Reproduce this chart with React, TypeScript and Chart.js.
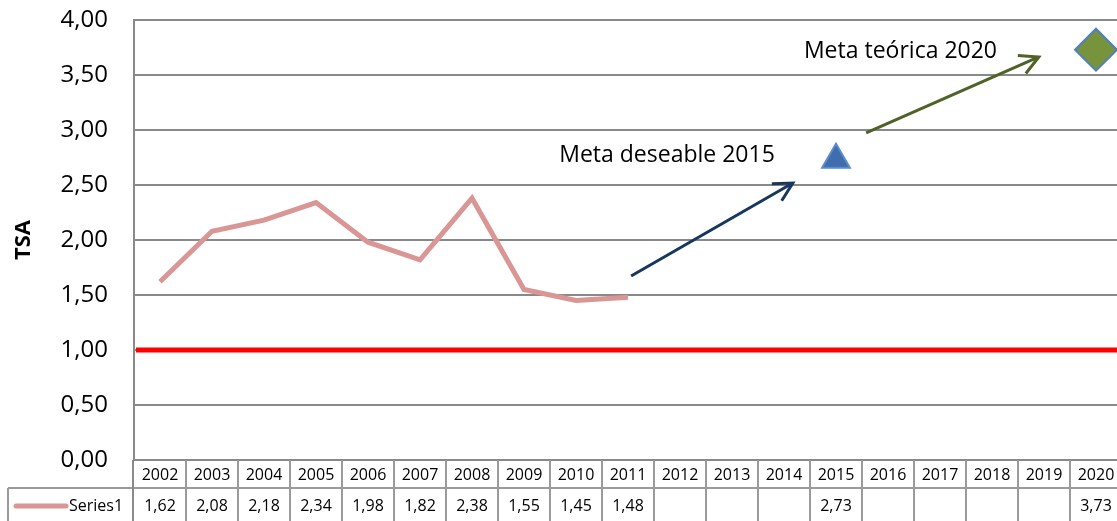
import React, { useEffect, useRef } from 'react';
import { Chart, registerables } from 'chart.js';

Chart.register(...registerables);

// ---- data ----
const years = ['2002', '2003', '2004', '2005', '2006', '2007', '2008', '2009', '2010', '2011', '2012', '2013', '2014', '2015', '2016', '2017', '2018', '2019', '2020'];
const series1: (number | null)[] = [1.62, 2.08, 2.18, 2.34, 1.98, 1.82, 2.38, 1.55, 1.45, 1.48, null, null, null, 2.73, null, null, null, null, 3.73];
const seriesName = 'Series1';
const yMin = 0;
const yMax = 4;
const yStep = 0.5;
const thresholdValue = 1.0;
const axisTitle = 'TSA';
// annotation anchors in data units: [category index, value]
const arrowStarts: [number, number][] = [[9.06, 1.673], [13.58, 2.973]];
const arrowEnds: [number, number][] = [[12.17, 2.518], [16.9, 3.664]];
const noteTexts = ['Meta deseable 2015', 'Meta teórica 2020'];
const noteAnchors: [number, number][] = [[9.75, 2.773], [14.24, 3.718]];

const FONT = "'Open Sans', sans-serif";
const fmt = (v: number) => v.toFixed(2).replace('.', ',');

const styles = {
  line: '#D99694',
  threshold: '#FF0000',
  grid: '#898989',
  table: '#9A9A9A',
  arrowColors: ['#17375E', '#4F6228'],
};

const pointStyles = series1.map((_, i) => (i === 13 ? 'triangle' : i === 18 ? 'rectRot' : 'circle'));
const pointRadii = series1.map((_, i) => (i === 13 ? 16 : i === 18 ? 21 : 0));
const pointFills = series1.map((_, i) => (i === 13 ? '#3F6DAD' : i === 18 ? '#77933C' : styles.line));
const pointBorders = series1.map((_, i) => (i === 13 ? '#5A8BCB' : i === 18 ? '#4F81BD' : styles.line));

const thresholdPlugin = {
  id: 'threshold',
  beforeDatasetsDraw(chart: any) {
    const { ctx, chartArea, scales } = chart;
    const y = scales.y.getPixelForValue(thresholdValue);
    ctx.save();
    ctx.strokeStyle = styles.threshold;
    ctx.lineWidth = 5;
    ctx.beginPath();
    ctx.moveTo(chartArea.left + 2, y);
    ctx.lineTo(chartArea.right, y);
    ctx.stroke();
    ctx.restore();
  },
};

const annotationPlugin = {
  id: 'notes',
  afterDatasetsDraw(chart: any) {
    const { ctx, scales } = chart;
    const xs = scales.x;
    const ys = scales.y;
    ctx.save();
    arrowStarts.forEach((s, i) => {
      const e = arrowEnds[i];
      const x0 = xs.getPixelForValue(s[0]);
      const y0 = ys.getPixelForValue(s[1]);
      const x1 = xs.getPixelForValue(e[0]);
      const y1 = ys.getPixelForValue(e[1]);
      const ang = Math.atan2(y1 - y0, x1 - x0);
      const L = 21;
      const spread = 0.49;
      ctx.strokeStyle = styles.arrowColors[i];
      ctx.lineWidth = 3;
      ctx.lineCap = 'butt';
      ctx.lineJoin = 'miter';
      ctx.beginPath();
      ctx.moveTo(x0, y0);
      ctx.lineTo(x1, y1);
      ctx.stroke();
      ctx.beginPath();
      ctx.moveTo(x1 - L * Math.cos(ang - spread), y1 - L * Math.sin(ang - spread));
      ctx.lineTo(x1, y1);
      ctx.lineTo(x1 - L * Math.cos(ang + spread), y1 - L * Math.sin(ang + spread));
      ctx.stroke();
    });
    ctx.fillStyle = '#000';
    ctx.font = `23px ${FONT}`;
    ctx.textAlign = 'center';
    ctx.textBaseline = 'middle';
    noteTexts.forEach((t, i) => {
      const a = noteAnchors[i];
      ctx.fillText(t, xs.getPixelForValue(a[0]), ys.getPixelForValue(a[1]));
    });
    ctx.restore();
  },
};

const tablePlugin = {
  id: 'dataTable',
  afterDraw(chart: any) {
    const { ctx, chartArea, scales, height } = chart;
    const xs = scales.x;
    const n = years.length;
    const half = (xs.getPixelForValue(1) - xs.getPixelForValue(0)) / 2;
    const top = chartArea.bottom;
    const rowSplit = top + 28;
    const bottom = height;
    const leftEdge = 8;
    ctx.save();
    ctx.strokeStyle = styles.table;
    ctx.lineWidth = 2;
    ctx.beginPath();
    ctx.moveTo(leftEdge, rowSplit);
    ctx.lineTo(chart.width, rowSplit);
    ctx.moveTo(leftEdge, rowSplit);
    ctx.lineTo(leftEdge, bottom);
    for (let i = 1; i <= n; i++) {
      const bx = xs.getPixelForValue(i) - half;
      ctx.moveTo(bx, top);
      ctx.lineTo(bx, bottom);
    }
    ctx.stroke();
    // axis continuation
    ctx.strokeStyle = styles.grid;
    ctx.lineWidth = 2;
    ctx.beginPath();
    ctx.moveTo(chartArea.left - 1, top);
    ctx.lineTo(chartArea.left - 1, bottom);
    ctx.stroke();

    ctx.fillStyle = '#000';
    ctx.font = `16px ${FONT}`;
    ctx.textAlign = 'center';
    ctx.textBaseline = 'middle';
    const data = chart.data.datasets[0].data;
    for (let i = 0; i < n; i++) {
      const cx = xs.getPixelForValue(i);
      ctx.fillText(years[i], cx, top + 15);
      const v = data[i];
      if (v !== null && v !== undefined) ctx.fillText(fmt(v), cx, rowSplit + 18);
    }
    // legend key
    ctx.strokeStyle = styles.line;
    ctx.lineWidth = 5;
    ctx.lineCap = 'round';
    ctx.beginPath();
    ctx.moveTo(16, rowSplit + 18);
    ctx.lineTo(66, rowSplit + 18);
    ctx.stroke();
    ctx.textAlign = 'left';
    ctx.fillText(seriesName, 69, rowSplit + 18);
    ctx.restore();
  },
};

export default function App() {
  const ref = useRef<HTMLCanvasElement>(null);
  useEffect(() => {
    if (!ref.current) return;
    Chart.defaults.font.family = FONT;
    const chart = new Chart(ref.current, {
      type: 'line',
      data: {
        labels: years,
        datasets: [
          {
            label: seriesName,
            data: series1,
            borderColor: styles.line,
            borderWidth: 5,
            spanGaps: false,
            pointStyle: pointStyles as any,
            pointRadius: pointRadii,
            pointHoverRadius: pointRadii,
            pointBackgroundColor: pointFills,
            pointBorderColor: pointBorders,
            pointBorderWidth: 2,
            clip: false as any,
            tension: 0,
          },
        ],
      },
      options: {
        animation: false,
        responsive: false,
        maintainAspectRatio: false,
        layout: { autoPadding: false, padding: { top: 20, right: 0, bottom: 0, left: 0 } },
        plugins: { legend: { display: false }, tooltip: { enabled: false } },
        scales: {
          x: {
            type: 'category',
            offset: true,
            grid: { display: false },
            border: { display: false },
            ticks: { display: false },
            afterFit: (s: any) => {
              s.height = 61;
            },
          },
          y: {
            min: yMin,
            max: yMax,
            ticks: {
              stepSize: yStep,
              padding: 3,
              color: '#000',
              font: { size: 24, family: FONT },
              callback: (v: any) => fmt(Number(v)),
            },
            grid: { color: styles.grid, lineWidth: 2, drawTicks: true, tickLength: 23, tickColor: 'rgba(0,0,0,0)' },
            border: { color: styles.grid, width: 2 },
            title: {
              display: true,
              text: axisTitle,
              color: '#000',
              font: { size: 22, weight: 'bold', family: FONT },
              padding: { top: 11, bottom: 0 },
            },
            afterFit: (s: any) => {
              s.width = 134;
            },
          },
        },
      },
      plugins: [thresholdPlugin, annotationPlugin, tablePlugin],
    });
    return () => chart.destroy();
  }, []);
  return (
    <div style={{ position: 'fixed', left: 0, top: 0, width: 1117, height: 521, overflow: 'hidden', background: '#fff' }}>
      <canvas ref={ref} width={1122} height={521} style={{ width: 1122, height: 521, display: 'block' }} />
    </div>
  );
}
